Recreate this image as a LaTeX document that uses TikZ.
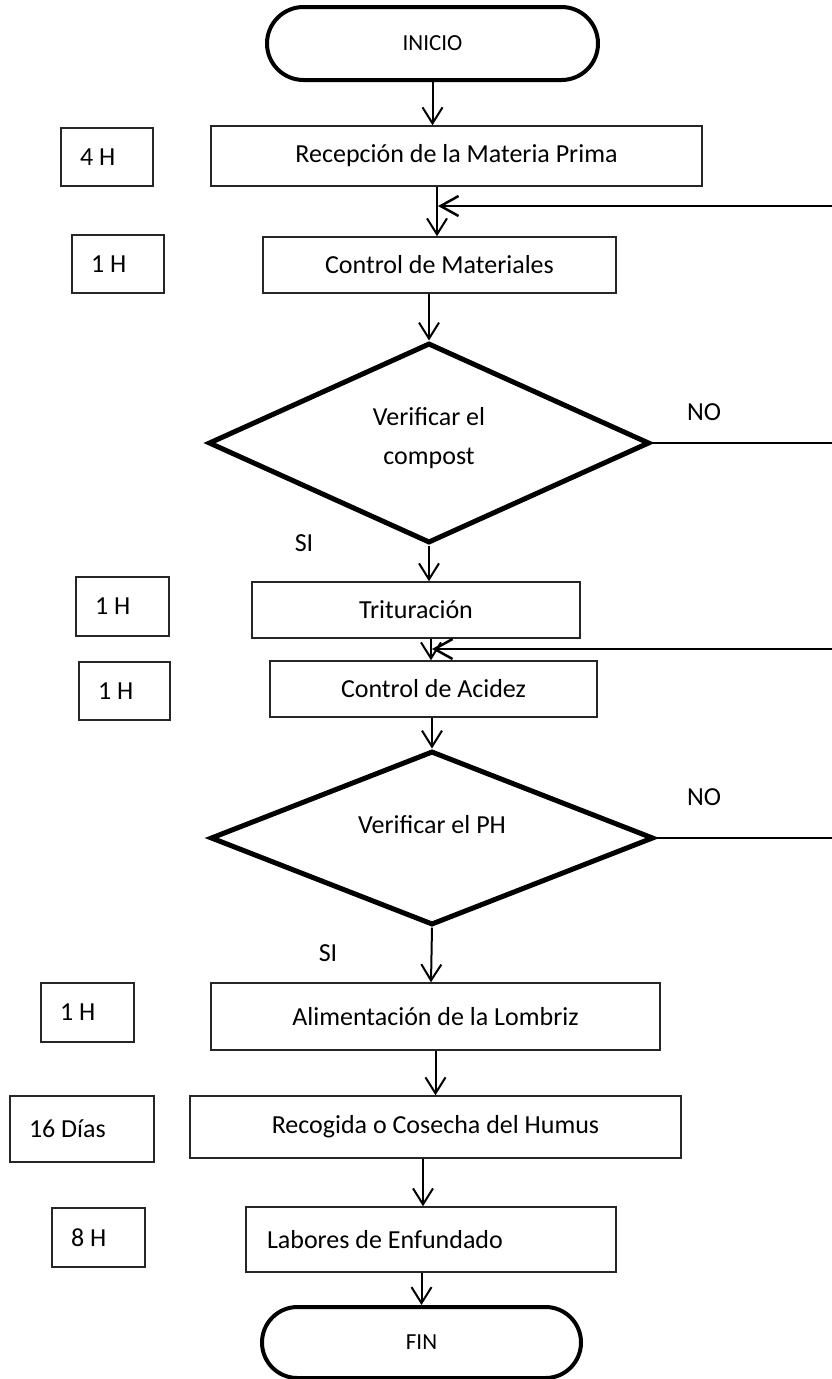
\documentclass[tikz,border=0pt]{standalone}
\usepackage{fontspec}
\setmainfont{Carlito}
\usetikzlibrary{arrows.meta,shapes.geometric,shapes.misc}
\begin{document}
\begin{tikzpicture}[x=1pt,y=-1pt,
  txt/.style={font=\fontsize{26}{39}\selectfont},
  procbox/.style={draw=black!85, line width=1.5pt, rectangle, inner sep=0pt, txt, align=center},
  timebox/.style={draw=black!85, line width=1.5pt, rectangle, inner xsep=19pt, inner ysep=0pt, txt, align=flush left},
  term/.style={draw, line width=4pt, rounded rectangle, inner sep=0pt, font=\fontsize{23}{28}\selectfont},
  decision/.style={draw, line width=5pt, diamond, inner sep=0pt, txt, align=center},
  flow/.style={line width=2pt, -{Straight Barb[length=16pt,width=20pt]}},
  loopline/.style={line width=2.5pt, -{Straight Barb[length=18pt,width=20pt]}},
  tag/.style={txt, inner sep=0pt}
]
\useasboundingbox (0,0) rectangle (831,1379);

% start / end terminators
\node[term, minimum width=331pt, minimum height=73pt] (ini) at (432.5,43.5) {INICIO};
\node[term, minimum width=319pt, minimum height=71pt] (fin) at (421.5,1342.5) {FIN};

% process steps
\node[procbox, minimum width=491pt, minimum height=60pt] (rec) at (456.5,156) {Recepción de la Materia Prima};
\node[procbox, minimum width=353pt, minimum height=56pt] (cm) at (439.5,265) {Control de Materiales};
\node[procbox, minimum width=328pt, minimum height=56pt] (trit) at (416,610) {Trituración};
\node[procbox, minimum width=327pt, minimum height=56pt] (acid) at (433.5,689) {Control de Acidez};
\node[procbox, minimum width=449pt, minimum height=67pt] (alim) at (435.5,1016.5) {Alimentación de la Lombriz};
\node[procbox, minimum width=491pt, minimum height=62pt] (recog) at (435.5,1127) {Recogida o Cosecha del Humus};
\node[procbox, inner xsep=21pt, text width=328pt, align=flush left, minimum height=65pt] (lab) at (431,1239.5) {Labores de Enfundado};

% decisions
\node[decision, minimum width=441pt, minimum height=200pt,
      label={[txt, align=center, yshift=5pt]center:Verificar el\\compost}] (d1) at (429,443) {};
\node[decision, minimum width=443pt, minimum height=174pt,
      label={[txt, yshift=13pt]center:Verificar el PH}] (d2) at (432,838) {};

% durations
\node[timebox, text width=54pt, minimum height=58pt] (t4) at (107,157) {4 H};
\node[timebox, text width=54pt, minimum height=58pt] (t1a) at (118,264) {1 H};
\node[timebox, text width=55pt, minimum height=59pt] (t1b) at (122.5,606.5) {1 H};
\node[timebox, text width=53pt, minimum height=58pt] (t1c) at (124.5,691) {1 H};
\node[timebox, text width=55pt, minimum height=59pt] (t1d) at (87.5,1012.5) {1 H};
\node[timebox, text width=106pt, minimum height=66pt] (t16) at (82,1129) {16 Días};
\node[timebox, text width=55pt, minimum height=59pt] (t8) at (98.5,1237.5) {8 H};

% branch labels
\node[tag] (no1) at (704,412) {NO};
\node[tag] (si1) at (304,543) {SI};
\node[tag] (no2) at (704,797) {NO};
\node[tag] (si2) at (328,953) {SI};

% main flow
\coordinate (s1) at (437,0);
\coordinate (s2) at (431,0);
\coordinate (s3) at (423,0);
\draw[flow] (ini.south) -- (ini.south |- rec.north);
\draw[flow] (s1 |- rec.south) -- (s1 |- cm.north);
\draw[flow] (d1.north |- cm.south) -- (d1.north);
\draw[flow] (d1.south) -- (d1.south |- trit.north);
\draw[flow] (s2 |- trit.south) -- (s2 |- acid.north);
\draw[flow] (d2.north |- acid.south) -- (d2.north);
\draw[flow] (d2.south) -- (s2 |- alim.north);
\draw[flow] (alim.south) -- (alim.south |- recog.north);
\draw[flow] (s3 |- recog.south) -- (s3 |- lab.north);
\draw[flow] (fin.north |- lab.south) -- (fin.north);

% return paths of the NO branches
\coordinate (rail1) at (834,206);
\coordinate (j1) at (438,206);
\coordinate (rail2) at (834,649);
\coordinate (j2) at (432,649);
\draw[loopline] (d1.east) -| (rail1) -- (j1);
\draw[loopline] (d2.east) -| (rail2) -- (j2);
\end{tikzpicture}
\end{document}
